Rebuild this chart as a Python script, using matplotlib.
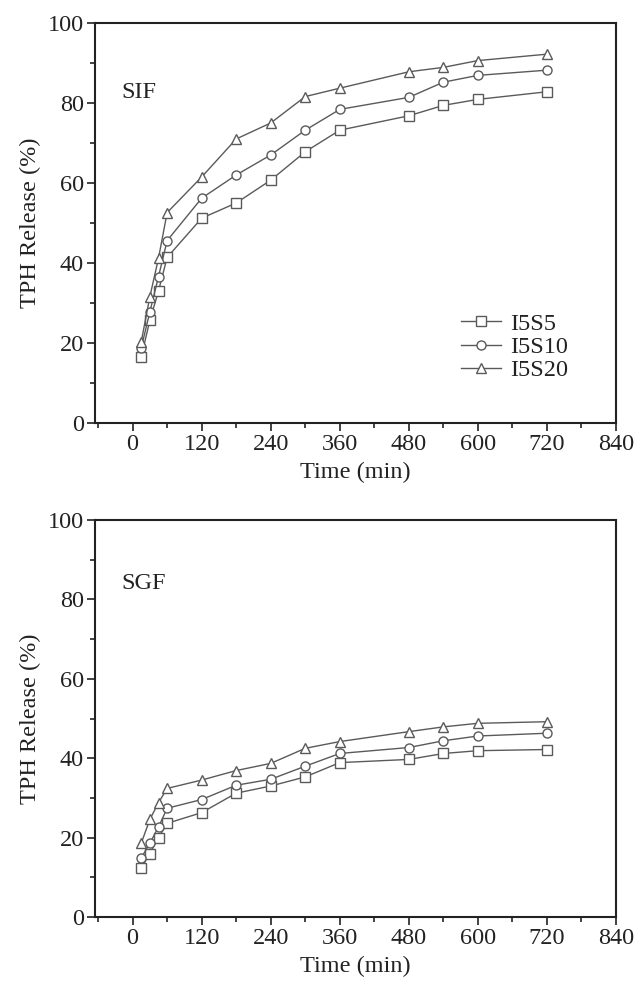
import matplotlib.pyplot as plt
from matplotlib.ticker import MultipleLocator

plt.rcParams['font.family'] = ['Liberation Serif', 'DejaVu Serif']

time = [15, 30, 45, 60, 120, 180, 240, 300, 360, 480, 540, 600, 720]
series = ["I5S5", "I5S10", "I5S20"]
markers = ["s", "o", "^"]

# release in simulated intestinal fluid
sif_i5s5 = [16.5, 25.7, 33.0, 41.4, 51.2, 55.0, 60.7, 67.8, 73.2, 76.8, 79.4, 80.9, 82.8]
sif_i5s10 = [18.8, 27.8, 36.6, 45.6, 56.2, 62.0, 67.0, 73.2, 78.4, 81.4, 85.2, 86.9, 88.2]
sif_i5s20 = [20.3, 31.6, 41.2, 52.6, 61.5, 71.0, 75.0, 81.6, 83.7, 87.8, 88.9, 90.6, 92.2]

# release in simulated gastric fluid
sgf_i5s5 = [12.3, 16.0, 20.0, 23.6, 26.3, 31.2, 33.0, 35.3, 38.9, 39.7, 41.2, 41.9, 42.2]
sgf_i5s10 = [14.9, 18.6, 22.7, 27.4, 29.6, 33.2, 34.7, 38.0, 41.2, 42.7, 44.4, 45.6, 46.3]
sgf_i5s20 = [18.6, 24.6, 28.8, 32.4, 34.5, 36.9, 38.7, 42.5, 44.2, 46.7, 47.9, 48.8, 49.2]

line_col = "#5a5a5a"
text_col = "#222222"
fs = 17.5

fig = plt.figure(figsize=(6.39, 9.9), dpi=100)
ax1 = fig.add_axes([0.149, 0.5727, 0.815, 0.4041])
ax2 = fig.add_axes([0.149, 0.0737, 0.815, 0.401])


def draw(ax, data, label, label_y, legend=False):
    for vals, m, name in zip(data, markers, series):
        ax.plot(time, vals, color=line_col, lw=1.0, marker=m, markersize=6.5,
                markerfacecolor="white", markeredgecolor=line_col,
                markeredgewidth=1.0, label=name)
    ax.set_xlim(-65, 840)
    ax.set_ylim(0, 100)
    ax.xaxis.set_major_locator(MultipleLocator(120))
    ax.xaxis.set_minor_locator(MultipleLocator(60))
    ax.yaxis.set_major_locator(MultipleLocator(20))
    ax.yaxis.set_minor_locator(MultipleLocator(10))
    ax.tick_params(which="both", direction="out", top=False, right=False,
                   colors=text_col, labelsize=fs, width=1.2, pad=2)
    ax.tick_params(which="major", length=6)
    ax.tick_params(which="minor", length=3.5)
    for sp in ax.spines.values():
        sp.set_linewidth(1.5)
        sp.set_color(text_col)
    ax.set_xlabel("Time (min)", fontsize=fs, color=text_col, labelpad=5)
    ax.set_ylabel("TPH Release (%)", fontsize=fs, color=text_col, labelpad=5)
    ax.text(-20, label_y, label, fontsize=fs, color=text_col, va="center")
    if legend:
        ax.legend(loc="center", bbox_to_anchor=(0.805, 0.19), frameon=False,
                  fontsize=fs, handlelength=1.65, handletextpad=0.4,
                  labelspacing=0.05, borderpad=0.2, labelcolor=text_col)


draw(ax1, [sif_i5s5, sif_i5s10, sif_i5s20], "SIF", 82.5, legend=True)
draw(ax2, [sgf_i5s5, sgf_i5s10, sgf_i5s20], "SGF", 84.0)

fig.savefig("out.png", dpi=100)
